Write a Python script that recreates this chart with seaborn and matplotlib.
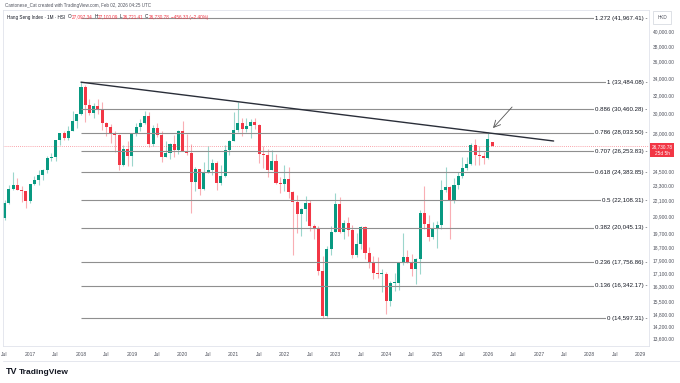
import numpy as np
import pandas as pd
import matplotlib
matplotlib.use('Agg')
import matplotlib.pyplot as plt
import matplotlib.transforms as mtransforms
from matplotlib.lines import Line2D
from matplotlib.ticker import NullLocator
import seaborn as sns

W, H = 680, 383
UP, DOWN = '#089981', '#f23645'

# monthly candles, Jul 2016 .. Feb 2026
months = pd.period_range('2016-07', '2026-02', freq='M')

opens = [20794, 21891, 22977, 23297, 22935, 22790,
         22001, 23361, 23741, 24112, 24615, 25661, 25765, 27324, 27970, 27554, 28246, 29177,
         29919, 32887, 30845, 30093, 30808, 30469, 28955, 28583, 27889, 27789, 24979, 26507,
         25845, 27942, 28633, 29051, 29699, 26901, 28543, 27778, 25725, 26092, 26906, 26346,
         28190, 26313, 26130, 23603, 24643, 22961, 24427, 24595, 25177, 23459, 24107, 26341,
         27231, 28284, 28980, 28378, 28725, 29152, 28828, 25961, 25879, 24576, 25377, 23475,
         23398, 23802, 22713, 21997, 21089, 21415, 21860, 20157, 19954, 17223, 14687, 18597,
         19781, 21842, 19786, 20400, 19895, 18234, 18916, 20079, 18382, 17810, 17112, 17043,
         17047, 15485, 16511, 16541, 17763, 18080, 17719, 17345, 17989, 21134, 20317, 19424,
         20060, 20225, 22941, 23120, 22119, 23290, 24072, 24773, 25079, 26856, 25907, 25858,
         25631, 27097]
highs = [22138, 23325, 24364, 23878, 23228, 22845,
         23413, 24031, 24594, 24682, 25780, 26090, 27324, 28029, 28183, 28670, 30200, 29930,
         33484, 33154, 31592, 31089, 31522, 31176, 29117, 28858, 28155, 27938, 26873, 27260,
         27991, 28985, 29409, 30280, 30157, 28836, 28988, 28195, 27179, 27053, 27838, 28319,
         29175, 27899, 26891, 24809, 24696, 25303, 26782, 25591, 25355, 24996, 26855, 27300,
         30191, 31183, 29483, 29494, 29401, 29490, 28850, 26712, 26452, 26368, 25995, 23986,
         25051, 24876, 22840, 22546, 21520, 22450, 22144, 20346, 20195, 18140, 18796, 20154,
         22700, 22354, 20580, 20845, 20270, 19716, 20177, 20195, 18776, 18172, 18095, 17329,
         17190, 16634, 17117, 17800, 19706, 18556, 18293, 18000, 21378, 23241, 21011, 20444,
         20505, 23717, 24874, 23250, 23911, 24384, 25736, 25767, 27045, 27381, 26760, 26193,
         28056, 27100]
lows = [20586, 21791, 22938, 22908, 21963, 21489,
        21883, 23301, 23286, 23738, 24330, 25367, 25401, 26839, 27299, 27316, 28180, 28531,
        29800, 29129, 29865, 29487, 29922, 28310, 27745, 27020, 26220, 24541, 24900, 24896,
        24897, 27741, 28238, 28900, 26671, 26726, 27581, 25281, 25690, 25539, 25764, 25973,
        26260, 25876, 21139, 22837, 22519, 22942, 24287, 24109, 22930, 23318, 23987, 25935,
        27200, 28109, 27693, 28144, 27530, 28407, 25231, 24748, 23964, 24542, 23368, 22665,
        22837, 22293, 18235, 19656, 19470, 20550, 19826, 19247, 17011, 14597, 14650, 18230,
        19738, 19715, 19260, 19513, 18044, 18067, 18588, 17959, 17396, 16728, 16835, 15972,
        14794, 15242, 16044, 16135, 17575, 17711, 16947, 16441, 17066, 19955, 19137, 19260,
        18672, 19993, 22773, 19260, 21874, 22964, 23891, 24594, 25053, 25054, 25047, 25075,
        25566, 26721]
closes = [21891, 22977, 23297, 22935, 22790, 22001,
          23361, 23741, 24112, 24615, 25661, 25765, 27324, 27970, 27554, 28246, 29177, 29919,
          32887, 30845, 30093, 30808, 30469, 28955, 28583, 27889, 27789, 24979, 26507, 25845,
          27942, 28633, 29051, 29699, 26901, 28543, 27778, 25725, 26092, 26906, 26346, 28190,
          26313, 26130, 23603, 24643, 22961, 24427, 24595, 25177, 23459, 24107, 26341, 27231,
          28284, 28980, 28378, 28725, 29152, 28828, 25961, 25879, 24576, 25377, 23475, 23398,
          23802, 22713, 21997, 21089, 21415, 21860, 20157, 19954, 17223, 14687, 18597, 19781,
          21842, 19786, 20400, 19895, 18234, 18916, 20079, 18382, 17810, 17112, 17043, 17047,
          15485, 16511, 16541, 17763, 18080, 17719, 17345, 17989, 21134, 20317, 19424, 20060,
          20225, 22941, 23120, 22119, 23290, 24072, 24773, 25079, 26856, 25907, 25858, 25631,
          27387, 26731]

last_price = 26730.78

fib_ratios = ['1.272', '1', '0.886', '0.786', '0.707', '0.618', '0.5', '0.382', '0.236', '0.136', '0']
fib_prices = [41967.41, 33484.08, 30460.28, 28033.50, 26253.83, 24383.85,
              22108.31, 20045.13, 17756.86, 16342.17, 14597.31]

# trendline from the Jan 2018 high (x in months from Jan 2018)
trend_x = [0, 111.5]
trend_y = [33484.08, 27220]

ytick_vals = [40000, 38000, 36000, 34000, 32000, 30000, 28000, 24500, 23300, 22100, 20900,
              19700, 18700, 17900, 17100, 16300, 15500, 14800, 14200, 13600]

xtick_pos = list(range(-18, 133, 6))
xtick_lab = ['Jul' if p % 12 == 6 else str(2018 + p // 12) for p in xtick_pos]


def px(x, y):
    return x / W, 1 - y / H


df = pd.DataFrame({'x': (months.year - 2018) * 12 + months.month - 1,
                   'o': opens, 'h': highs, 'l': lows, 'c': closes})
df['up'] = df['c'] >= df['o']

sns.set_theme(style='white')
plt.rcParams['font.family'] = ['Liberation Sans', 'DejaVu Sans']

fig = plt.figure(figsize=(6.8, 3.83), dpi=100)
ax = fig.add_axes([3 / W, 1 - 346 / H, 646 / W, 336 / H])
ax.set_yscale('log')

for up, g in df.groupby('up'):
    col = UP if up else DOWN
    ax.vlines(g['x'], g['l'], g['h'], color=col, alpha=0.4, lw=0.8)
    body = np.maximum((g['c'] - g['o']).abs(), g['c'] * 0.003)
    ax.bar(g['x'], body, bottom=np.minimum(g['o'], g['c']), width=0.72, color=col, linewidth=0)

# fib levels
blend = mtransforms.blended_transform_factory(ax.transAxes, ax.transData)
ax.hlines(fib_prices, 0, 140, color='#8f8f8f', lw=0.8)
for r, p in zip(fib_ratios, fib_prices):
    ax.text(0.998, p, f'{r} ({p:,.2f}) -', transform=blend, ha='right', va='center',
            fontsize=4.4, color='#131722',
            bbox=dict(fc='white', ec='none', boxstyle='square,pad=0.25'))

sns.lineplot(x=trend_x, y=trend_y, ax=ax, color='#2a2e39', lw=1.0)
ax.annotate('', xy=(97.2, 28490), xytext=(101.7, 30680),
            arrowprops=dict(arrowstyle='->', color='#555555', lw=0.6, shrinkA=0, shrinkB=0))

ax.axhline(last_price, color=DOWN, lw=0.6, ls=(0, (1, 1.5)), alpha=0.6)

ax.set_xlim(-18.4, 134.0)
ax.set_ylim(13228, 43170)

ax.yaxis.tick_right()
ax.set_yticks(ytick_vals, [f'{v:,.2f}' for v in ytick_vals])
ax.yaxis.set_minor_locator(NullLocator())
ax.tick_params(axis='y', length=0, pad=2.5, labelsize=3.5, labelcolor='#50535e')
ax.set_xticks(xtick_pos, xtick_lab)
ax.tick_params(axis='x', length=0, pad=4, labelsize=3.6, labelcolor='#50535e')
ax.set_xlabel('')
ax.set_ylabel('')
for side in ['top', 'right', 'bottom', 'left']:
    ax.spines[side].set_color('#e0e3eb')
    ax.spines[side].set_linewidth(0.6)

# price tag and currency box on the price scale
fig.text(*px(662, 150), '26,730.78\n25d 5h', ha='center', va='center', fontsize=3.4,
         color='white', linespacing=1.3,
         bbox=dict(fc=DOWN, ec='none', boxstyle='square,pad=0.35'))
fig.text(*px(662, 17.5), 'HKD', ha='center', va='center', fontsize=3.3, color='#50535e',
         bbox=dict(fc='white', ec='#d1d4dc', lw=0.5, boxstyle='square,pad=0.9'))

fig.add_artist(Line2D([3 / W, 1], [1 - 361 / H] * 2, color='#e0e3eb', lw=0.6))

# header
fig.text(*px(5, 6), 'Cantonese_Cat created with TradingView.com, Feb 02, 2026 04:25 UTC',
         fontsize=3.25, color='#50535e', va='center')
renderer = fig.canvas.get_renderer()
# (text, colour, gap in px after it)
pieces = [('Hang Seng Index · 1M · HSI', '#131722', 3), ('O', '#131722', 0.3),
          ('27,097.34', DOWN, 1.5), ('H', '#131722', 0.3), ('27,100.09', DOWN, 1.5),
          ('L', '#131722', 0.3), ('26,721.41', DOWN, 1.5), ('C', '#131722', 0.3),
          ('26,730.78', DOWN, 1.5), ('−456.33 (−2.40%)', DOWN, 0)]
xpos = 7
for s, col, gap in pieces:
    t = fig.text(*px(xpos, 17), s, fontsize=3.35, color=col, va='center')
    xpos += t.get_window_extent(renderer).width + gap

# logo
fig.text(*px(6, 372), 'TV', fontsize=6.5, fontweight='heavy', color='#131722', va='center')
fig.text(*px(19, 372), 'TradingView', fontsize=6.0, fontweight='semibold', color='#131722',
         va='center')

fig.savefig('out.png', dpi=100, facecolor='white')
